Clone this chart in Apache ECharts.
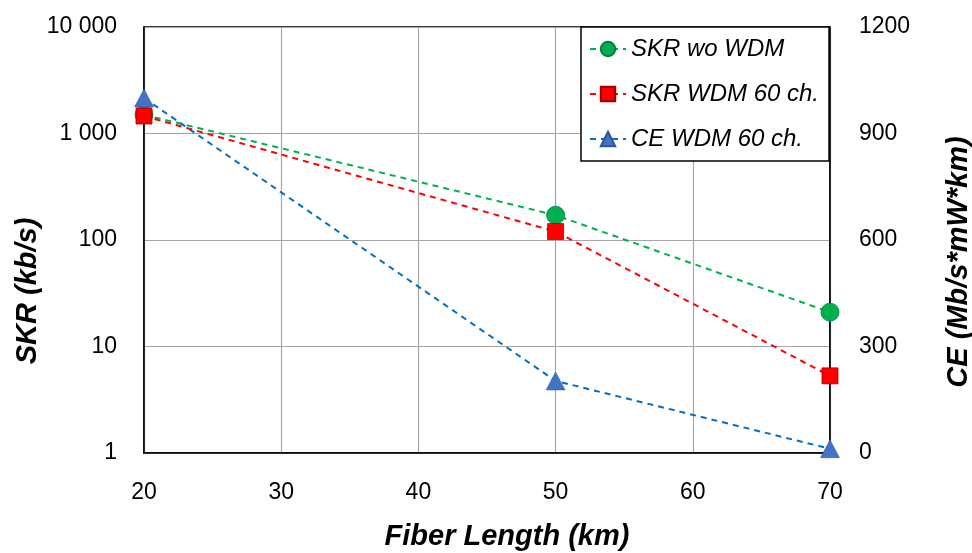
<!DOCTYPE html>
<html>
<head>
  <meta charset="UTF-8">
  <title>SKR / CE vs fiber length</title>
  <script src="https://cdn.jsdelivr.net/npm/echarts@6/dist/echarts.min.js"></script>
  <style>
    html, body { margin: 0; padding: 0; background: #fff; }
    #main { width: 972px; height: 553px; }
  </style>
</head>
<body>
<div id="main"></div>
<script type="text/javascript">
  // fiber length (km)
  var lengths = [20, 50, 70];
  // SKR (kb/s), left log axis
  var skrNoWdm = [1500, 171, 21];
  var skrWdm60 = [1460, 120, 5.3];
  // CE (Mb/s*mW*km), right axis
  var ceWdm60 = [1000, 203, 12];

  var FONT = 'Liberation Sans';

  function titleStyle(pad) {
    return { fontFamily: FONT, fontSize: 29, fontWeight: 'bold', fontStyle: 'italic', color: '#000', padding: pad };
  }

  function pairs(ys) {
    return lengths.map(function (x, i) { return [x, ys[i]]; });
  }

  // 10000 -> "10 000"
  function spaced(v) {
    return String(Math.round(v)).replace(/\B(?=(\d{3})+(?!\d))/g, ' ');
  }

  var myChart = echarts.init(document.getElementById('main'));

  var option = {
    animation: false,
    grid: {
      left: 144, right: 142, top: 27, bottom: 100,
      outerBoundsMode: 'none',
      show: true, borderColor: '#000', borderWidth: 1.5
    },
    legend: {
      orient: 'vertical',
      left: 581, top: 27,
      padding: [10, 10, 10, 8],
      itemGap: 21,
      itemWidth: 36, itemHeight: 18,
      borderColor: '#000', borderWidth: 1.5,
      backgroundColor: '#fff',
      textStyle: { fontFamily: FONT, fontSize: 24, fontStyle: 'italic', color: '#000' },
      data: ['SKR wo WDM', 'SKR WDM 60 ch.', 'CE WDM 60 ch.']
    },
    xAxis: {
      type: 'value', min: 20, max: 70, interval: 10,
      name: 'Fiber Length (km)', nameLocation: 'middle', nameGap: 69,
      nameTextStyle: titleStyle([0, 0, 0, 40]),
      axisLine: { lineStyle: { color: '#000', width: 1.5 } },
      axisTick: { show: false },
      axisLabel: { fontFamily: FONT, fontSize: 23, color: '#000', margin: 28 },
      splitLine: { lineStyle: { color: '#a6a6a6', width: 1.2 } }
    },
    yAxis: [
      {
        type: 'log', logBase: 10, min: 1, max: 10000,
        name: 'SKR (kb/s)', nameLocation: 'middle', nameGap: 102, nameRotate: 90,
        nameMoveOverlap: false,
        nameTextStyle: titleStyle([0, 102, 0, 0]),
        axisLine: { show: true, lineStyle: { color: '#000', width: 1.5 } },
        axisTick: { show: false },
        minorTick: { show: false },
        axisLabel: {
          fontFamily: FONT, fontSize: 23, color: '#000', margin: 27,
          formatter: function (v) { return spaced(v); }
        },
        splitLine: { lineStyle: { color: '#a6a6a6', width: 1.2 } }
      },
      {
        type: 'value', min: 0, max: 1200, interval: 300,
        name: 'CE (Mb/s*mW*km)', nameLocation: 'middle', nameGap: 114, nameRotate: 90,
        nameTextStyle: titleStyle([0, 44, 0, 0]),
        axisLine: { show: true, lineStyle: { color: '#000', width: 1.5 } },
        axisTick: { show: false },
        axisLabel: {
          fontFamily: FONT, fontSize: 23, color: '#000', margin: 29,
          formatter: function (v) { return String(v); }
        },
        splitLine: { show: false }
      }
    ],
    series: [
      {
        name: 'SKR wo WDM', type: 'line', yAxisIndex: 0, z: 2,
        data: pairs(skrNoWdm),
        symbol: 'circle', symbolSize: 18,
        itemStyle: { color: '#00b050', borderColor: '#00803a', borderWidth: 0.8 },
        lineStyle: { color: '#00b050', width: 2, type: [6, 5] }
      },
      {
        name: 'SKR WDM 60 ch.', type: 'line', yAxisIndex: 0, z: 4,
        data: pairs(skrWdm60),
        symbol: 'rect', symbolSize: 16,
        itemStyle: { color: '#ff0000', borderColor: '#a00000', borderWidth: 0.8 },
        lineStyle: { color: '#ff0000', width: 2, type: [6, 5] }
      },
      {
        name: 'CE WDM 60 ch.', type: 'line', yAxisIndex: 1, z: 3,
        data: pairs(ceWdm60),
        symbol: 'triangle', symbolSize: [19, 18],
        itemStyle: { color: '#4472c4', borderColor: '#2f5597', borderWidth: 0.5 },
        lineStyle: { color: '#0070c0', width: 2, type: [6, 5] }
      }
    ]
  };

  myChart.setOption(option);
</script>
</body>
</html>
